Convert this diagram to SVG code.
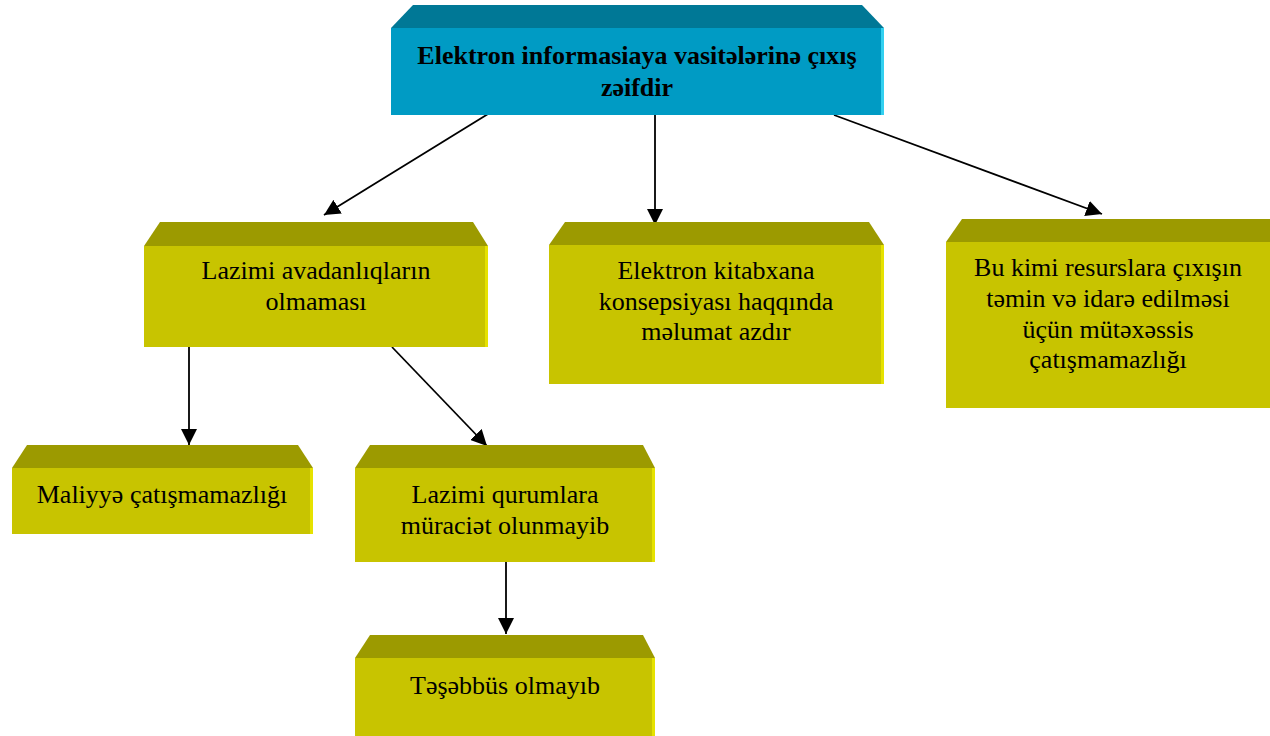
<svg xmlns="http://www.w3.org/2000/svg" width="1270" height="736" viewBox="0 0 1270 736">
<style>
.yt{fill:#9C9A00}
.yf{fill:#C8C400}
.ye{fill:#E6E200}
.bt{fill:#007896}
.bf{fill:#009BC4}
.be{fill:#33D0F0}
text{font-family:"Liberation Serif","Times New Roman",serif;font-size:26px;fill:#000;text-anchor:middle}
.bold{font-weight:bold;font-size:26px}
.conn line{stroke:#000;stroke-width:1.8;marker-end:url(#ah)}
</style>
<defs>
<marker id="ah" markerUnits="userSpaceOnUse" markerWidth="16" markerHeight="16" viewBox="0 0 16 16" refX="16" refY="8" orient="auto">
<path d="M0,0 L16,8 L0,16 Z" fill="#000"/>
</marker>
</defs>

<g id="conn" class="conn">
<line x1="488" y1="114" x2="324" y2="215"/>
<line x1="655" y1="115" x2="655" y2="225"/>
<line x1="834" y1="115" x2="1102" y2="214"/>
<line x1="189" y1="347" x2="189" y2="445"/>
<line x1="392" y1="347" x2="487" y2="446"/>
<line x1="506" y1="562" x2="506" y2="634"/>
</g>

<g id="top">
<polygon class="bt" points="413,5 862,5 884,28 391,28"/>
<rect class="bf" x="391" y="28" width="493" height="87"/>
<rect class="be" x="881" y="28" width="3" height="87"/>
<text class="bold" x="637" y="64">Elektron informasiaya vasitələrinə çıxış</text>
<text class="bold" x="637" y="96">zəifdir</text>
</g>

<g id="nodeA">
<polygon class="yt" points="160,222 473,222 488,246 144,246"/>
<rect class="yf" x="144" y="246" width="344" height="101"/>
<rect class="ye" x="485" y="246" width="3" height="101"/>
<text x="316" y="279">Lazimi avadanlıqların</text>
<text x="316" y="310">olmaması</text>
</g>

<g id="nodeB">
<polygon class="yt" points="565,222 869,222 884,245 549,245"/>
<rect class="yf" x="549" y="245" width="335" height="139"/>
<rect class="ye" x="881" y="245" width="3" height="139"/>
<text x="716" y="279">Elektron kitabxana</text>
<text x="716" y="310">konsepsiyası haqqında</text>
<text x="716" y="340">məlumat azdır</text>
</g>

<g id="nodeC">
<polygon class="yt" points="962,219 1270,219 1270,242 946,242"/>
<rect class="yf" x="946" y="242" width="324" height="166"/>
<text x="1108" y="276">Bu kimi resurslara çıxışın</text>
<text x="1108" y="307">təmin və idarə edilməsi</text>
<text x="1108" y="338">üçün mütəxəssis</text>
<text x="1108" y="368">çatışmamazlığı</text>
</g>

<g id="nodeD">
<polygon class="yt" points="27,445 298,445 313,468 12,468"/>
<rect class="yf" x="12" y="468" width="301" height="66"/>
<rect class="ye" x="310" y="468" width="3" height="66"/>
<text x="162" y="503">Maliyyə çatışmamazlığı</text>
</g>

<g id="nodeE">
<polygon class="yt" points="370,445 643,445 655,468 355,468"/>
<rect class="yf" x="355" y="468" width="300" height="94"/>
<rect class="ye" x="652" y="468" width="3" height="94"/>
<text x="505" y="503">Lazimi qurumlara</text>
<text x="505" y="534">müraciət olunmayib</text>
</g>

<g id="nodeF">
<polygon class="yt" points="370,635 643,635 655,658 355,658"/>
<rect class="yf" x="355" y="658" width="300" height="78"/>
<rect class="ye" x="652" y="658" width="3" height="78"/>
<text x="505" y="694">Təşəbbüs olmayıb</text>
</g>
</svg>
